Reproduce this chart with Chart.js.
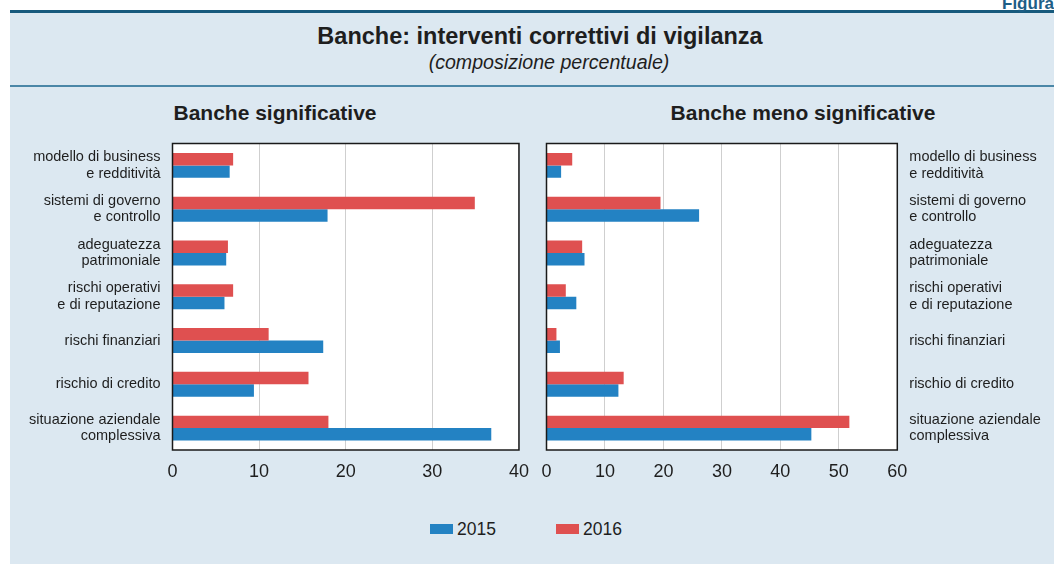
<!DOCTYPE html>
<html>
<head>
<meta charset="utf-8">
<script src="https://cdn.jsdelivr.net/npm/chart.js@4"></script>
<style>
  body { margin: 0; width: 1054px; height: 564px; background: #ffffff; position: relative; overflow: hidden;
         font-family: "Liberation Sans", Arial, Helvetica, sans-serif; color: #1e1e1e; }
  #panel { position: absolute; left: 10px; top: 10px; width: 1044px; height: 554px; background: #dce8f1; }
  #topLine { position: absolute; left: 10px; top: 10px; width: 1044px; height: 3px; background: #175a7d; }
  #midLine { position: absolute; left: 10px; top: 85px; width: 1044px; height: 2px; background: #4b87a7; }
  .txt { position: absolute; white-space: nowrap; transform: translateX(-50%); }
  #figura { position: absolute; left: 1002px; top: -6px; font-weight: bold; font-size: 17px; color: #1d5e86; white-space: nowrap; }
  canvas { position: absolute; }
  #legend { position: absolute; top: 519px; left: 430px; font-size: 17.5px; }
  .item { position: absolute; top: 0; white-space: nowrap; }
  .box { position: absolute; top: 5px; width: 23px; height: 10px; }
  .lab { position: absolute; top: 0; left: 27px; line-height: 20px; }
</style>
</head>
<body>
<div id="panel"></div>
<div id="topLine"></div>
<div id="midLine"></div>
<div id="figura">Figura 4.</div>
<div class="txt" style="left:540px; top:23px; font-size:23.5px; font-weight:bold;">Banche: interventi correttivi di vigilanza</div>
<div class="txt" style="left:549px; top:51px; font-size:19.6px; font-style:italic;">(composizione percentuale)</div>
<div class="txt" style="left:275px; top:101px; font-size:21px; font-weight:bold;">Banche significative</div>
<div class="txt" style="left:803px; top:101px; font-size:21px; font-weight:bold;">Banche meno significative</div>

<canvas id="chartSig" width="540" height="400" style="left:0px; top:95px;"></canvas>
<canvas id="chartLess" width="524" height="400" style="left:530px; top:95px;"></canvas>
<div id="legend"></div>

<script>
const categories = [
    ["modello di business", "e redditività"],
    ["sistemi di governo", "e controllo"],
    ["adeguatezza", "patrimoniale"],
    ["rischi operativi", "e di reputazione"],
    "rischi finanziari",
    "rischio di credito",
    ["situazione aziendale", "complessiva"]
];

const seriesNames = ["2015", "2016"];
const seriesColors = ["#2382c3", "#df5050"];

// Banche significative
const sig2015 = [6.6, 17.9, 6.2, 6.0, 17.4, 9.4, 36.8];
const sig2016 = [7.0, 34.9, 6.4, 7.0, 11.1, 15.7, 18.0];

// Banche meno significative
const less2015 = [2.5, 26.1, 6.5, 5.1, 2.3, 12.3, 45.3];
const less2016 = [4.4, 19.5, 6.1, 3.3, 1.7, 13.2, 51.8];

const ticksSig = [0, 10, 20, 30, 40];
const ticksLess = [0, 10, 20, 30, 40, 50, 60];

const FONT = "'Liberation Sans', Arial, Helvetica, sans-serif";

// white plot area + black frame around it
const frame = {
    id: "frame",
    beforeDraw(chart) {
        const a = chart.chartArea, ctx = chart.ctx;
        ctx.save();
        ctx.fillStyle = "#ffffff";
        ctx.fillRect(a.left, a.top, a.right - a.left, a.bottom - a.top);
        ctx.restore();
    },
    afterDraw(chart) {
        const a = chart.chartArea, ctx = chart.ctx;
        ctx.save();
        ctx.strokeStyle = "#1a1a1a";
        ctx.lineWidth = 1.5;
        ctx.strokeRect(a.left, a.top, a.right - a.left, a.bottom - a.top);
        ctx.restore();
    }
};

function makeChart(id, d2015, d2016, tickList, side, padding, yWidth) {
    const ctx = document.getElementById(id);
    return new Chart(ctx, {
        type: "bar",
        data: {
            labels: categories,
            datasets: [
                // 2016 first so it sits on top in each pair
                { label: seriesNames[1], data: d2016, backgroundColor: seriesColors[1] },
                { label: seriesNames[0], data: d2015, backgroundColor: seriesColors[0] }
            ]
        },
        options: {
            indexAxis: "y",
            responsive: false,
            animation: false,
            devicePixelRatio: 1,
            categoryPercentage: 0.57,
            barPercentage: 1.0,
            layout: { padding: padding },
            plugins: {
                legend: { display: false },
                tooltip: { enabled: false }
            },
            scales: {
                x: {
                    min: tickList[0],
                    max: tickList[tickList.length - 1],
                    afterBuildTicks: (scale) => {
                        scale.ticks = tickList.map(v => ({ value: v }));
                    },
                    afterFit: (scale) => { scale.height = 45; },
                    grid: { color: "#cfcfcf", lineWidth: 1, drawTicks: false },
                    border: { display: false },
                    ticks: {
                        padding: 11,
                        color: "#1e1e1e",
                        font: { family: FONT, size: 18 }
                    }
                },
                y: {
                    position: side,
                    afterFit: (scale) => { scale.width = yWidth; },
                    grid: { display: false, drawTicks: false },
                    border: { display: false },
                    ticks: {
                        padding: 12,
                        color: "#1e1e1e",
                        font: { family: FONT, size: 14.5, lineHeight: 1.14 }
                    }
                }
            }
        },
        plugins: [frame]
    });
}

makeChart("chartSig", sig2015, sig2016, ticksSig, "left",
    { left: 0, right: 15.6, top: 48.5, bottom: 0 }, 172.5);
makeChart("chartLess", less2015, less2016, ticksLess, "right",
    { left: 16.5, right: 0, top: 48.5, bottom: 0 }, 156.7);

// legend below the two panels
const legend = document.getElementById("legend");
const offsets = [0, 126];
seriesNames.forEach((name, i) => {
    let item = document.createElement("div");
    item.classList.add("item");
    item.style.left = offsets[i] + "px";
    let box = document.createElement("div");
    box.classList.add("box");
    box.style.background = seriesColors[i];
    let lab = document.createElement("div");
    lab.classList.add("lab");
    lab.textContent = name;
    item.appendChild(box);
    item.appendChild(lab);
    legend.appendChild(item);
});
</script>
</body>
</html>
